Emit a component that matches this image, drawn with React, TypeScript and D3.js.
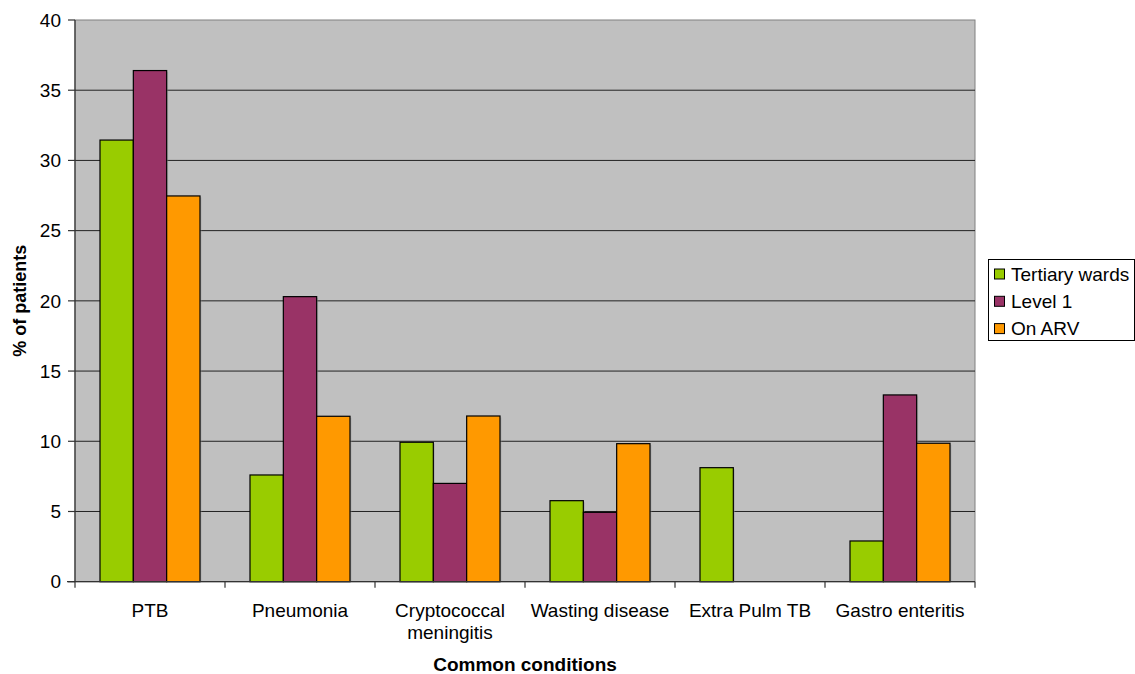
import React from "react";
import * as d3 from "d3";

const categories = ["PTB", "Pneumonia", "Cryptococcal\nmeningitis", "Wasting disease", "Extra Pulm TB", "Gastro enteritis"];
const seriesNames = ["Tertiary wards", "Level 1", "On ARV"];
const tertiary = [31.45, 7.6, 9.93, 5.77, 8.12, 2.9];
const level1 = [36.4, 20.3, 7.0, 4.94, 0, 13.3];
const onArv = [27.47, 11.78, 11.8, 9.83, 0, 9.86];
const colors = ["#99CC00", "#993366", "#FF9900"];
const yTicks = [0, 5, 10, 15, 20, 25, 30, 35, 40];

export default function App() {
  const W = 1135, H = 674;
  const left = 75, right = 975, top = 20, bottom = 581.7;
  const x = d3.scaleBand<string>().domain(categories).range([left, right]).paddingInner(0).paddingOuter(0);
  const y = d3.scaleLinear().domain([0, 40]).range([bottom, top]);
  const inner = d3.scaleBand<string>().domain(seriesNames).range([0, x.bandwidth()]).paddingOuter(0.75).paddingInner(0);
  const data = [tertiary, level1, onArv];
  const font = "'Liberation Sans', Arial, sans-serif";
  const fs = 19;
  return (
    <svg width={W} height={H} style={{ position: "absolute", left: 0, top: 0, background: "#fff" }} fontFamily={font}>
      <rect x={left} y={top} width={right - left} height={bottom - top} fill="#C0C0C0" stroke="#808080" strokeWidth={1} />
      {yTicks.slice(1, -1).map((t) => (
        <line key={t} x1={left} x2={right} y1={y(t)} y2={y(t)} stroke="#222" strokeWidth={1} />
      ))}
      {data.map((vals, si) =>
        vals.map((v, ci) => {
          if (v <= 0) return null;
          const bx = (x(categories[ci]) as number) + (inner(seriesNames[si]) as number);
          return (
            <g key={si + "-" + ci}>
              <rect x={bx + 1.5} y={y(v) + 1.5} width={inner.bandwidth()} height={bottom - y(v) - 1.5} fill="#999" opacity={0.5} />
              <rect x={bx} y={y(v)} width={inner.bandwidth()} height={bottom - y(v)} fill={colors[si]} stroke="#000" strokeWidth={1.2} />
            </g>
          );
        })
      )}
      <line x1={left} x2={left} y1={top} y2={bottom} stroke="#333" strokeWidth={1.2} />
      <line x1={left - 8} x2={right} y1={bottom} y2={bottom} stroke="#333" strokeWidth={1.2} />
      {yTicks.map((t) => (
        <g key={t}>
          <line x1={left - 7} x2={left} y1={y(t)} y2={y(t)} stroke="#333" strokeWidth={1.2} />
          <text x={left - 14} y={y(t)} dy="0.35em" textAnchor="end" fontSize={fs} fill="#000">{t}</text>
        </g>
      ))}
      {categories.map((c, i) => (
        <line key={"t" + i} x1={x(c) as number} x2={x(c) as number} y1={bottom} y2={bottom + 6} stroke="#333" strokeWidth={1.2} />
      ))}
      <line x1={right} x2={right} y1={bottom} y2={bottom + 6} stroke="#333" strokeWidth={1.2} />
      {categories.map((c, i) => {
        const lines = c.split("\n");
        const cx = (x(c) as number) + x.bandwidth() / 2;
        return (
          <text key={"l" + i} x={cx} y={617} textAnchor="middle" fontSize={fs} fill="#000">
            {lines.map((ln, j) => (
              <tspan key={j} x={cx} dy={j === 0 ? 0 : 22}>{ln}</tspan>
            ))}
          </text>
        );
      })}
      <text x={525} y={671} textAnchor="middle" fontSize={fs} fontWeight="bold">Common conditions</text>
      <text transform={`translate(26,${(top + bottom) / 2}) rotate(-90)`} textAnchor="middle" fontSize={18} fontWeight="bold">% of patients</text>
      <rect x={988.5} y={259.5} width={146} height={81} fill="#fff" stroke="#000" strokeWidth={1} />
      {seriesNames.map((s, i) => (
        <g key={s}>
          <rect x={994.5} y={269 + i * 27.3} width={10} height={10} fill={colors[i]} stroke="#000" strokeWidth={1} />
          <text x={1011} y={274 + i * 27.3} dy="0.35em" fontSize={fs}>{s}</text>
        </g>
      ))}
    </svg>
  );
}
